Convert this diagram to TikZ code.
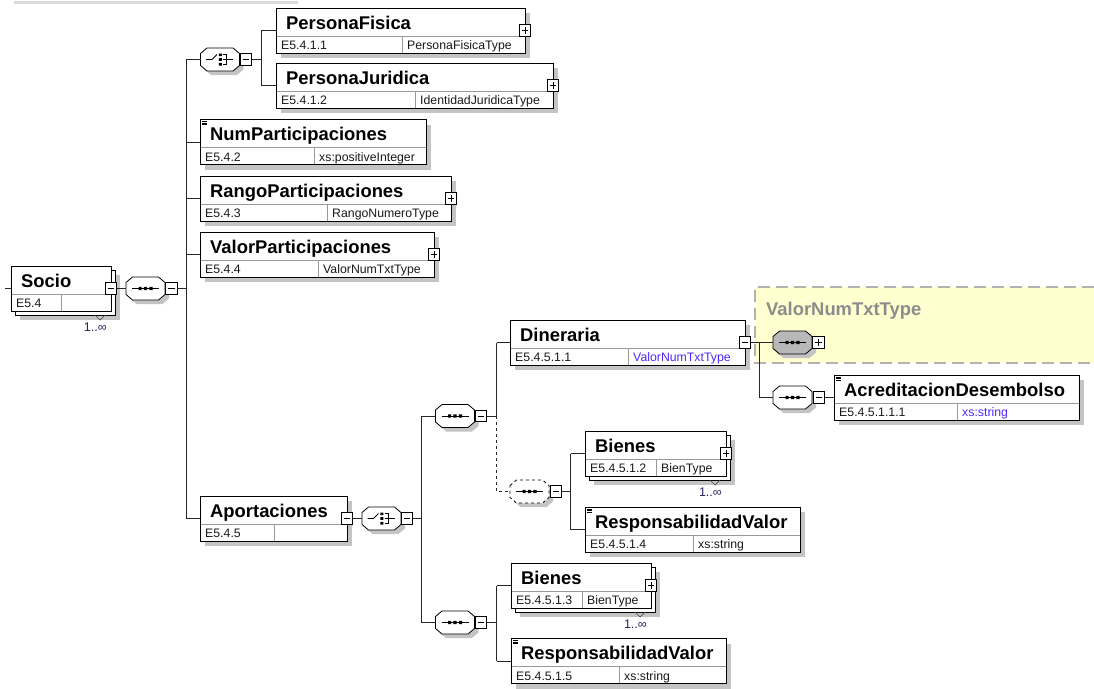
\documentclass[tikz,border=0pt]{standalone}
\usepackage{fontspec}
\setmainfont{Liberation Sans}
\definecolor{typeblue}{RGB}{80,40,255}
\definecolor{cardc}{RGB}{45,30,95}
\definecolor{yellowc}{RGB}{255,255,208}
\definecolor{shadowc}{RGB}{196,196,196}
\tikzset{
  elem/.style={rectangle, draw=black, fill=white, line width=0.8pt, minimum height=45pt, inner sep=0pt, outer sep=0pt},
  elemline/.style={draw=black, line width=0.8pt},
  subline/.style={draw=black!40, line width=0.8pt},
  titletext/.style={inner sep=0pt, font=\fontsize{18.4}{20}\selectfont\bfseries},
  subtext/.style={inner sep=0pt, font=\fontsize{12.3}{14}\selectfont, text=black!90},
  cardtext/.style={inner sep=0pt, font=\fontsize{12.5}{14}\selectfont, text=cardc},
  pmb/.style={rectangle, draw=black, fill=white, line width=0.7pt, minimum size=11.5pt, inner sep=0pt, outer sep=0pt},
  pmline/.style={line width=0.7pt},
  compnode/.style={rectangle, minimum width=39pt, minimum height=23pt, inner sep=0pt, outer sep=0pt},
  compline/.style={draw=black, fill=white, line width=0.8pt},
  conn/.style={draw=black!85, line width=0.9pt},
}
\newcommand\shadowbox[3]{\fill[shadowc] (#1+5,#2+5) rectangle (#1+#3+5,#2+50);}
\newcommand\backbox[3]{\shadowbox{#1+4}{#2+4}{#3}\draw[elemline, fill=white] (#1+4,#2+4) rectangle (#1+#3+4,#2+49);}
\newcommand\xbox[8]{%
  \node[elem, minimum width=#4pt, anchor=north west] (#1) at (#2,#3) {};
  \draw[subline] (#2,#3+28) -- (#2+#4,#3+28);
  \draw[subline] (#2+#5,#3+28) -- (#2+#5,#3+45);
  \draw[elemline] (#2,#3) rectangle (#2+#4,#3+45);
  \node[titletext, anchor=base west] (#1-t) at (#2+10,#3+21) {#6};
  \node[subtext, anchor=base west] (#1-i) at (#2+5,#3+41.5) {#7};
  \node[subtext, anchor=base west] (#1-y) at (#2+#5+5,#3+41.5) {#8};
}
\newcommand\simpleicon[2]{\draw[line width=0.5pt] (#1+2,#2+2) -- (#1+7,#2+2) (#1+2,#2+3.6) -- (#1+7,#2+3.6) (#1+2,#2+5.2) -- (#1+7,#2+5.2);}
\newcommand\xminus[3]{\node[pmb] (#1) at (#2,#3) {};\draw[pmline] ([xshift=2.5pt]#1.west) -- ([xshift=-2.5pt]#1.east);}
\newcommand\xplus[3]{\xminus{#1}{#2}{#3}\draw[pmline] ([yshift=-2.5pt]#1.north) -- ([yshift=2.5pt]#1.south);}
\newcommand\cardmark[3]{% name, right x, bottom y of front box
  \draw[black!70, line width=0.7pt] (#2-16,#3+4) -- (#2-11,#3+9) -- (#2-6,#3+4);
  \node[cardtext, anchor=east] (#1) at (#2-4,#3+16) {1..∞};
}
\newcommand\compo[4]{% name, cx, cy, extra style
  \node[compnode] (#1) at (#2,#3) {};
  \fill[shadowc, shift={(#2+4,#3+4)}] (-19.5,-6)--(-13,-11.5)--(13,-11.5)--(19.5,-6)--(19.5,6)--(13,11.5)--(-13,11.5)--(-19.5,6)--cycle;
  \draw[compline, #4, shift={(#2,#3)}] (-19.5,-6)--(-13,-11.5)--(13,-11.5)--(19.5,-6)--(19.5,6)--(13,11.5)--(-13,11.5)--(-19.5,6)--cycle;
}
\newcommand\seqsym[2]{%
  \draw[shift={(#1,#2)}, line width=0.8pt] (-13.5,0) -- (13.5,0);
  \fill[shift={(#1,#2)}] (-7,-1.7) rectangle (-3.8,1.7) (-1.6,-1.7) rectangle (1.6,1.7) (3.8,-1.7) rectangle (7,1.7);
}
\newcommand\chsym[2]{%
  \begin{scope}[shift={(#1,#2)}, line width=0.9pt]
    \draw (-14,0) -- (-8,0) -- (-3,-5);
    \fill (-1.2,-6) rectangle (1.8,-3.3) (-1.2,-1.4) rectangle (1.8,1.4) (-1.2,3.3) rectangle (1.8,6);
    \draw (3,-5) -- (6.5,-5) -- (6.5,5) -- (3,5);
    \draw (3,0) -- (13,0);
  \end{scope}}
\begin{document}
\begin{tikzpicture}[x=1pt,y=-1pt]
\useasboundingbox (0,0) rectangle (1094,688);
% top fragment line
\draw[line width=3pt, black!14] (14,2) -- (298,2);
% yellow type area
\fill[yellowc] (755,287) rectangle (1094,363);
\draw[black!30, line width=1.3pt, dash pattern=on 12pt off 6pt] (1094,287) -- (755,287) -- (755,363) -- (1094,363);
\node[inner sep=0pt, anchor=base west, font=\fontsize{18.4}{20}\selectfont\bfseries, text=black!45] (vnt) at (766,315) {ValorNumTxtType};

% ---------- boxes ----------
\backbox{11}{266}{100}
\xbox{socio}{11}{266}{100}{50}{Socio}{E5.4}{}
\xminus{socio-pm}{111}{288.5}
\cardmark{socio-c}{111}{311}

\shadowbox{276}{8}{249}
\xbox{pf}{276}{8}{249}{126}{PersonaFisica}{E5.4.1.1}{PersonaFisicaType}
\xplus{pf-pm}{525}{30.5}

\shadowbox{276}{63}{277}
\xbox{pj}{276}{63}{277}{139}{PersonaJuridica}{E5.4.1.2}{IdentidadJuridicaType}
\xplus{pj-pm}{553}{85.5}

\shadowbox{200}{119.5}{226}
\xbox{num}{200}{119.5}{226}{114}{NumParticipaciones}{E5.4.2}{xs:positiveInteger}
\simpleicon{200}{119.5}

\shadowbox{200}{176}{251}
\xbox{rango}{200}{176}{251}{127}{RangoParticipaciones}{E5.4.3}{RangoNumeroType}
\xplus{rango-pm}{451}{198.5}

\shadowbox{200}{232}{234}
\xbox{valor}{200}{232}{234}{118}{ValorParticipaciones}{E5.4.4}{ValorNumTxtType}
\xplus{valor-pm}{434}{254.5}

\shadowbox{200}{496}{147}
\xbox{aport}{200}{496}{147}{74}{Aportaciones}{E5.4.5}{}
\xminus{aport-pm}{347}{518.5}

\shadowbox{510}{320}{235}
\xbox{din}{510}{320}{235}{118}{Dineraria}{E5.4.5.1.1}{\textcolor{typeblue}{ValorNumTxtType}}
\xminus{din-pm}{745}{342.5}

\shadowbox{834}{375}{245}
\xbox{acr}{834}{375}{245}{123}{AcreditacionDesembolso}{E5.4.5.1.1.1}{\textcolor{typeblue}{xs:string}}
\simpleicon{834}{375}

\backbox{585}{431}{141}
\xbox{bien1}{585}{431}{141}{71}{Bienes}{E5.4.5.1.2}{BienType}
\xplus{bien1-pm}{726}{453.5}
\cardmark{bien1-c}{726}{476}

\shadowbox{585}{507}{215}
\xbox{resp1}{585}{507}{215}{108}{ResponsabilidadValor}{E5.4.5.1.4}{xs:string}
\simpleicon{585}{507}

\backbox{511}{563}{140}
\xbox{bien2}{511}{563}{140}{71}{Bienes}{E5.4.5.1.3}{BienType}
\xplus{bien2-pm}{651}{585.5}
\cardmark{bien2-c}{651}{608}

\shadowbox{511}{638.5}{215}
\xbox{resp2}{511}{638.5}{215}{108}{ResponsabilidadValor}{E5.4.5.1.5}{xs:string}
\simpleicon{511}{638.5}

% ---------- compositors ----------
\compo{seqS}{145.5}{288.5}{}\seqsym{145.5}{288.5}
\xminus{seqS-pm}{171.5}{288.5}
\compo{ch1}{220}{59.5}{}\chsym{220}{59.5}
\xminus{ch1-pm}{246}{59.5}
\compo{ch2}{381.5}{518.5}{}\chsym{381.5}{518.5}
\xminus{ch2-pm}{407}{518.5}
\compo{seq1}{455}{416}{}\seqsym{455}{416}
\xminus{seq1-pm}{481}{416}
\compo{seqD}{529.5}{491.5}{dashed}\seqsym{529.5}{491.5}
\xminus{seqD-pm}{556}{491.5}
\compo{seq2}{455}{622.5}{}\seqsym{455}{622.5}
\xminus{seq2-pm}{481}{622.5}
\compo{gseq}{792.5}{342.5}{fill=black!28}\seqsym{792.5}{342.5}
\xplus{gseq-pm}{818.5}{342.5}
\compo{seq3}{792.5}{397.5}{}\seqsym{792.5}{397.5}
\xminus{seq3-pm}{819}{397.5}

% ---------- connectors ----------
\coordinate (rootin) at (5,288.5);
\coordinate (b1) at (186,0);
\coordinate (b2) at (261,0);
\coordinate (b3) at (421.5,0);
\coordinate (b4) at (496.5,0);
\coordinate (b5) at (570.5,0);
\coordinate (b7) at (759.5,0);

\draw[conn] (rootin) -- (socio.west);
\draw[conn] (socio-pm.east) -- (seqS.west);
\draw[conn] (seqS-pm.east) -- (seqS-pm.east -| b1);
\draw[conn] (b1 |- ch1.west) -- (b1 |- aport.west);
\draw[conn] (b1 |- ch1.west) -- (ch1.west);
\draw[conn] (b1 |- num.west) -- (num.west);
\draw[conn] (b1 |- rango.west) -- (rango.west);
\draw[conn] (b1 |- valor.west) -- (valor.west);
\draw[conn] (b1 |- aport.west) -- (aport.west);

\draw[conn] (ch1-pm.east) -- (ch1-pm.east -| b2);
\draw[conn] (b2 |- pf.west) -- (b2 |- pj.west);
\draw[conn] (b2 |- pf.west) -- (pf.west);
\draw[conn] (b2 |- pj.west) -- (pj.west);

\draw[conn] (aport-pm.east) -- (ch2.west);
\draw[conn] (ch2-pm.east) -- (ch2-pm.east -| b3);
\draw[conn] (b3 |- seq1.west) -- (b3 |- seq2.west);
\draw[conn] (b3 |- seq1.west) -- (seq1.west);
\draw[conn] (b3 |- seq2.west) -- (seq2.west);

\draw[conn] (seq1-pm.east) -- (seq1-pm.east -| b4);
\draw[conn] (b4 |- din.west) -- (b4 |- seq1.west);
\draw[conn] (b4 |- din.west) -- (din.west);
\draw[conn, dashed] (b4 |- seq1.west) -- (b4 |- seqD.west) -- (seqD.west);

\draw[conn] (seqD-pm.east) -- (seqD-pm.east -| b5);
\draw[conn] (b5 |- bien1.west) -- (b5 |- resp1.west);
\draw[conn] (b5 |- bien1.west) -- (bien1.west);
\draw[conn] (b5 |- resp1.west) -- (resp1.west);

\draw[conn] (seq2-pm.east) -- (seq2-pm.east -| b4);
\draw[conn] (b4 |- bien2.west) -- (b4 |- resp2.west);
\draw[conn] (b4 |- bien2.west) -- (bien2.west);
\draw[conn] (b4 |- resp2.west) -- (resp2.west);

\draw[conn] (din-pm.east) -- (gseq.west);
\draw[conn] (b7 |- din-pm.east) -- (b7 |- seq3.west) -- (seq3.west);
\draw[conn] (seq3-pm.east) -- (acr.west);
\end{tikzpicture}
\end{document}
